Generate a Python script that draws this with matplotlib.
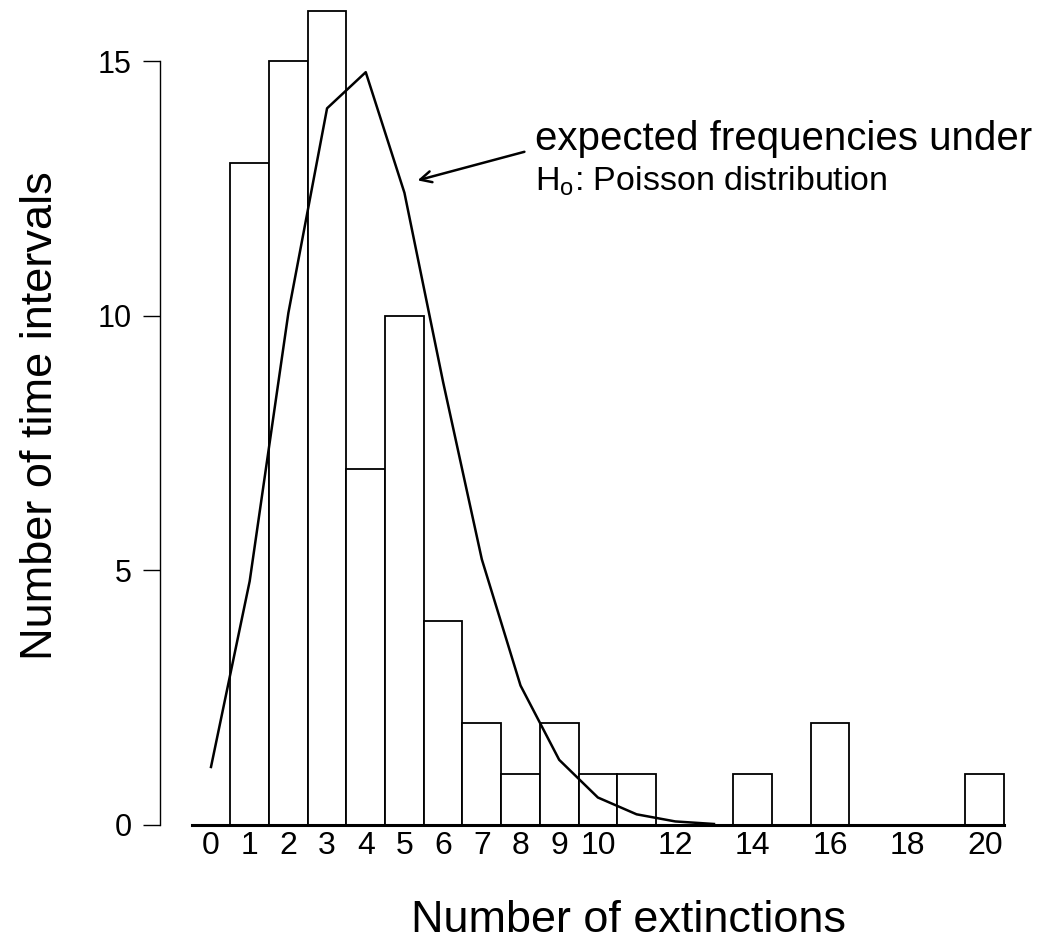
import numpy as np
import matplotlib
matplotlib.use('Agg')
import matplotlib.pyplot as plt

plt.rcParams['font.family'] = ['Liberation Sans', 'DejaVu Sans']

# observed counts per number of extinctions
n_extinctions = list(range(0, 21))
n_intervals = [0, 13, 15, 16, 7, 10, 4, 2, 1, 2, 1, 1, 0, 0, 1, 0, 2, 0, 0, 0, 1]

# expected frequencies under H0
k_expected = list(range(0, 14))
expected = [1.14, 4.79, 10.06, 14.08, 14.79, 12.42, 8.70, 5.22, 2.74, 1.28,
            0.54, 0.21, 0.07, 0.02]

xtick_pos = [0, 1, 2, 3, 4, 5, 6, 7, 8, 9, 10, 12, 14, 16, 18, 20]
ytick_pos = [0, 5, 10, 15]

W, H = 1054, 939
fig = plt.figure(figsize=(W / 100, H / 100), dpi=100)
ax = fig.add_axes([160 / W, 114 / H, 848 / W, 819.5 / H])

ax.bar(n_extinctions, n_intervals, width=1.0, color='white',
       edgecolor='black', linewidth=1.3, zorder=2)
ax.plot(k_expected, expected, color='black', linewidth=1.8, zorder=3)

ax.set_xlim(-1.318, 20.6)
ax.set_ylim(0, 16.1)

for s in ['top', 'right']:
    ax.spines[s].set_visible(False)
ax.spines['left'].set_bounds(0, 15)
ax.spines['left'].set_linewidth(1.0)
ax.spines['bottom'].set_bounds(-0.5, 20.5)
ax.spines['bottom'].set_linewidth(2.2)
ax.spines['bottom'].set_zorder(4)

ax.set_xticks(xtick_pos)
ax.set_xticklabels([str(v) for v in xtick_pos])
ax.set_yticks(ytick_pos)
ax.tick_params(axis='x', length=0, pad=4, labelsize=23)
ax.tick_params(axis='y', direction='out', length=12, width=1.0, pad=8.5,
               labelsize=22)

ax.set_xlabel('Number of extinctions', fontsize=32.4, va='baseline', ha='center')
ax.xaxis.set_label_coords(0.553, -0.1306)
ax.set_ylabel('Number of time intervals', fontsize=32.5, va='center',
              ha='center', rotation_mode='default')
ax.yaxis.set_label_coords(-0.1415, 0.499)

# annotation with arrow pointing at the expected curve
ax.annotate('', xy=(5.27, 12.65), xytext=(8.17, 13.24),
            arrowprops=dict(arrowstyle='->', color='black', lw=1.8,
                            mutation_scale=20))
ax.text(8.37, 13.26, 'expected frequencies under',
        fontsize=29, va='baseline', ha='left')
ax.text(8.37, 12.475, 'H$_\\mathregular{o}$: Poisson distribution',
        fontsize=24.5, va='baseline', ha='left')

fig.savefig('out.png', dpi=100)
